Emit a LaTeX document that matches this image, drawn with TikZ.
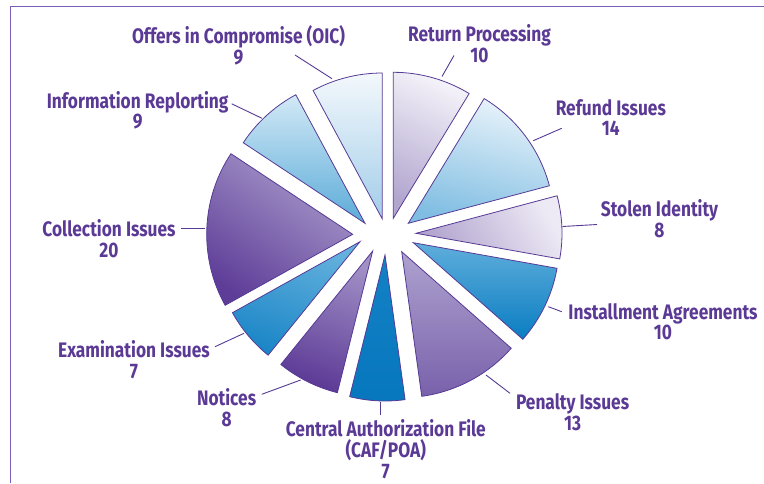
\documentclass[tikz,border=0pt]{standalone}
\usepackage{fontspec}
\setmainfont{Fira Sans}[FakeStretch=0.825]
\definecolor{labc}{HTML}{5B3A96}
\definecolor{edgec}{HTML}{563A95}
\definecolor{framec}{HTML}{7B5DB9}
\definecolor{retA}{HTML}{F4F2F9}\definecolor{retB}{HTML}{B2A6CF}
\definecolor{refA}{HTML}{E8F3FA}\definecolor{refB}{HTML}{7FBDE2}
\definecolor{stoA}{HTML}{EEEAF5}\definecolor{stoB}{HTML}{B1A4CE}
\definecolor{insA}{HTML}{5FAEDB}\definecolor{insB}{HTML}{0A7DC2}
\definecolor{penA}{HTML}{AEA2CF}\definecolor{penB}{HTML}{7961AB}
\definecolor{cafA}{HTML}{1381C4}\definecolor{cafB}{HTML}{0777BE}
\definecolor{notA}{HTML}{A190C6}\definecolor{notB}{HTML}{5C3A96}
\definecolor{exaA}{HTML}{64B1DD}\definecolor{exaB}{HTML}{1B86C7}
\definecolor{colA}{HTML}{A99BCB}\definecolor{colB}{HTML}{5E3D98}
\definecolor{infA}{HTML}{D2E9F6}\definecolor{infB}{HTML}{5BABD8}
\definecolor{offA}{HTML}{F3F8FC}\definecolor{offB}{HTML}{A2CDE9}
\begin{document}
\begin{tikzpicture}[x=1pt,y=1pt,
  wedge/.style={draw=edgec, line width=0.8pt, line join=miter},
  lab/.style={font=\fontsize{21}{20.8}\selectfont\bfseries, text=labc, align=center, inner sep=0pt},
  leader/.style={draw=edgec, line width=0.9pt}]
\useasboundingbox (0,0) rectangle (764,483);
% frame
\coordinate (fa) at (10.3,0);
\coordinate (fb) at (10.3,476.3);
\coordinate (fc) at (764,476.3);
\draw[framec, line width=1.5pt] (fa) -- (fb) -- (fc);
% wedges
\draw[wedge, top color=retA, bottom color=retB, shading angle=-25]
  (393.3,264.7) -- ++(58.7:146) arc[start angle=58.7, end angle=90, radius=146] -- cycle;
\draw[wedge, top color=refA, bottom color=refB, shading angle=-15]
  (408.3,259.7) -- ++(14.9:146) arc[start angle=14.9, end angle=58.7, radius=146] -- cycle;
\draw[wedge, top color=stoA, bottom color=stoB, shading angle=-60]
  (416,249.7) -- ++(-10.1:146) arc[start angle=-10.1, end angle=14.9, radius=146] -- cycle;
\draw[wedge, top color=insA, bottom color=insB]
  (413.3,240.3) -- ++(-41.4:146) arc[start angle=-41.4, end angle=-10.1, radius=146] -- cycle;
\draw[wedge, top color=penA, bottom color=penB]
  (401.7,231.3) -- ++(-82.1:146) arc[start angle=-82.1, end angle=-41.4, radius=146] -- cycle;
\draw[wedge, top color=cafA, bottom color=cafB]
  (385,228) -- ++(-104:146) arc[start angle=-104, end angle=-82.1, radius=146] -- cycle;
\draw[wedge, top color=notA, bottom color=notB, shading angle=-20]
  (372.7,232) -- ++(-129:146) arc[start angle=-129, end angle=-104, radius=146] -- cycle;
\draw[wedge, top color=exaA, bottom color=exaB, shading angle=-20]
  (360,241.3) -- ++(-150.9:146) arc[start angle=-150.9, end angle=-129, radius=146] -- cycle;
\draw[wedge, top color=colA, bottom color=colB, shading angle=-35]
  (352.7,248.7) -- ++(146.5:146) arc[start angle=146.5, end angle=209.1, radius=146] -- cycle;
\draw[wedge, top color=infA, bottom color=infB]
  (365,259.7) -- ++(118.3:146) arc[start angle=118.3, end angle=146.5, radius=146] -- cycle;
\draw[wedge, top color=offA, bottom color=offB]
  (382.3,264) -- ++(90:146) arc[start angle=90, end angle=118.3, radius=146] -- cycle;
% labels
\node[lab] (lOff) at (238.5,437.5) {Offers in Compromise (OIC)\\9};
\node[lab] (lRet) at (479.5,439.5) {Return Processing\\10};
\node[lab] (lRef) at (610.8,365.5) {Refund Issues\\14};
\node[lab] (lSto) at (659.5,264.5) {Stolen Identity\\8};
\node[lab] (lIns) at (663,161.3) {Installment Agreements\\10};
\node[lab] (lPen) at (572.6,70.8) {Penalty Issues\\13};
\node[lab] (lCaf) at (385.8,33.8) {Central Authorization File\\(CAF/POA)\\7};
\node[lab] (lNot) at (226.6,75.5) {Notices\\8};
\node[lab] (lExa) at (134,123.3) {Examination Issues\\7};
\node[lab] (lCol) at (109,244.3) {Collection Issues\\20};
\node[lab] (lInf) at (137.7,372.7) {Information Replorting\\9};
% leader end points
\coordinate (oA) at (295,428);     \coordinate (oB) at (332,404.3);
\coordinate (rA) at (454,427.5);   \coordinate (rB) at (442,406.5);
\coordinate (fA) at (561.7,354.7); \coordinate (fB) at (533.3,342.3);
\coordinate (sA) at (597,258.5);   \coordinate (sB) at (562.5,256.5);
\coordinate (iA) at (561.7,171.3); \coordinate (iB) at (548.3,176.3);
\coordinate (pA) at (510,89.7);    \coordinate (pB) at (486,108);
\coordinate (cA) at (380.7,68);    \coordinate (cB) at (380.7,81.3);
\coordinate (nA) at (261.7,88.7);  \coordinate (nB) at (300.7,103);
\coordinate (eA) at (215,136.3);   \coordinate (eB) at (244,149.7);
\coordinate (kA) at (181,255);     \coordinate (kB) at (205,255);
\coordinate (jA) at (231.7,379.2); \coordinate (jB) at (262,364.7);
\draw[leader] (oA) -- (oB);
\draw[leader] (rA) -- (rB);
\draw[leader] (fA) -- (fB);
\draw[leader] (sA) -- (sB);
\draw[leader] (iA) -- (iB);
\draw[leader] (pA) -- (pB);
\draw[leader] (cA) -- (cB);
\draw[leader] (nA) -- (nB);
\draw[leader] (eA) -- (eB);
\draw[leader] (kA) -- (kB);
\draw[leader] (jA) -- (jB);
\end{tikzpicture}
\end{document}
